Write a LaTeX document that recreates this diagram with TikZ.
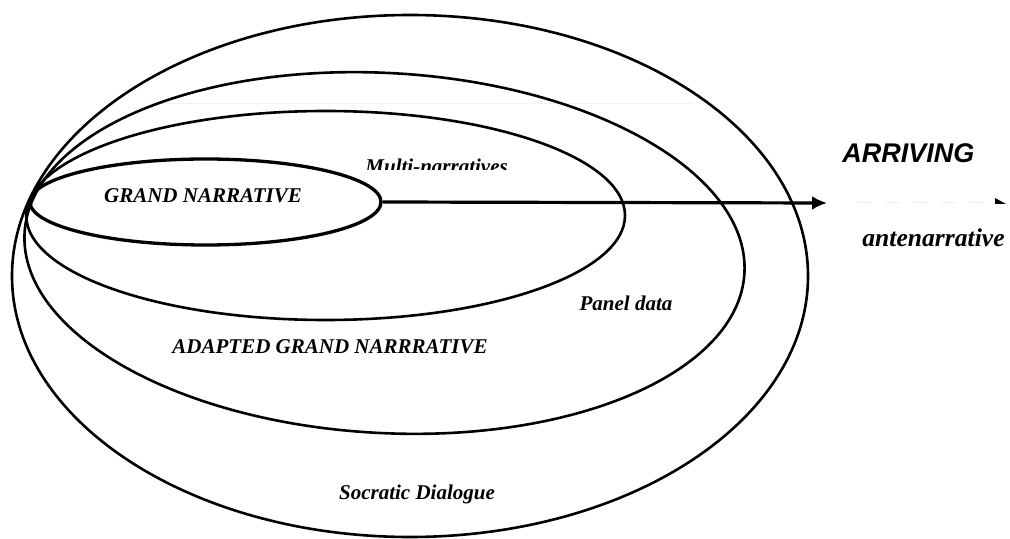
\documentclass[tikz,border=0pt]{standalone}
\usepackage{fontspec}
\setmainfont{Liberation Serif}
\newfontfamily\arialfont{Liberation Sans}
\usetikzlibrary{arrows.meta, shapes.geometric, positioning}

\tikzset{
  ring/.style={line width=1.3pt},
  lbl/.style={font=\fontsize{10.5}{12}\selectfont\bfseries\itshape, inner sep=0pt},
}

\begin{document}
\begin{tikzpicture}[x=0.5pt, y=-0.5pt, >={Latex[length=7.5pt,width=7pt]}]
\useasboundingbox (0,0) rectangle (1010,539);
% faint box edge
\draw[black!5, line width=0.5pt](150,104)--(692,104);
% outer rings
\coordinate (sd) at (410,276);
\coordinate (ag) at (384.5,253);
\coordinate (mn) at (325.6,215.5);
\draw[ring](sd) circle [x radius=398, y radius=261];
\draw[ring](ag) circle [x radius=360.5, y radius=180, rotate=-3.2];
\draw[ring](mn) circle [x radius=299.4, y radius=104.5];
% grand narrative
\node[ellipse, draw, line width=1.65pt, minimum width=175.5pt, minimum height=43pt, inner sep=0pt] (gn) at (205.5,202) {};
\node[lbl, anchor=base] (gntext) at (203,203) {GRAND NARRATIVE};
\begin{scope}
\clip (340,100) rectangle (530,170);
\node[lbl, anchor=base west] (multi) at (365,174) {Multi-narratives};
\end{scope}
\node[lbl, anchor=base] (adapted) at (330,353) {ADAPTED GRAND NARRRATIVE};
\node[lbl, anchor=base] (panel) at (626,311) {Panel data};
\node[lbl, anchor=base] (socratic) at (417,499) {Socratic Dialogue};
% arrow out
\coordinate (arrive) at (827,203);
\draw[->, line width=1.6pt](gn.east)--(arrive);
\node[lbl, font=\fontsize{13.5}{15}\selectfont\arialfont\bfseries\itshape, anchor=base west] (arriving) at (842,163) {ARRIVING};
\coordinate (dashA) at (857,203);
\coordinate (dashB) at (985,203);
\draw[black!6, line width=0.5pt, dash pattern=on 7.5pt off 6.5pt](dashA)--(dashB);
\fill (995,198)--(1006,204)--(995,204)--cycle;
\node[lbl, font=\fontsize{12.8}{15}\selectfont\bfseries\itshape, anchor=base west] (ante) at (862,247) {antenarrative};
\end{tikzpicture}
\end{document}
